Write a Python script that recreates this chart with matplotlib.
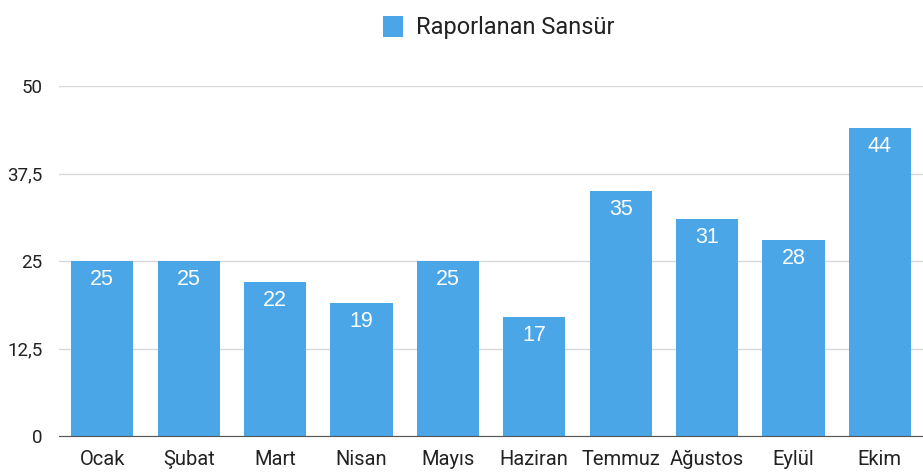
import matplotlib
matplotlib.use("Agg")
import matplotlib.pyplot as plt
from matplotlib.patches import Patch

months = ["Ocak", "Şubat", "Mart", "Nisan", "Mayıs", "Haziran",
          "Temmuz", "Ağustos", "Eylül", "Ekim"]
reported = [25, 25, 22, 19, 25, 17, 35, 31, 28, 44]
y_ticks = [0, 12.5, 25, 37.5, 50]
y_tick_labels = ["0", "12,5", "25", "37,5", "50"]
series_name = "Raporlanan Sansür"

BLUE = "#4aa6e6"
TEXT = "#222222"

plt.rcParams["font.family"] = ["Roboto", "DejaVu Sans"]

fig = plt.figure(figsize=(9.23, 4.73), dpi=100)
ax = fig.add_axes([0.064, 0.078, 0.936, 0.74])

x = range(len(months))
bars = ax.bar(list(x), reported, width=0.72, color=BLUE, zorder=2)
for b, v in zip(bars, reported):
    ax.text(b.get_x() + b.get_width() / 2, v - 1.1, str(v),
            ha="center", va="top", color="white", fontsize=15.5,
            family=["Liberation Sans", "DejaVu Sans"], zorder=3)

ax.set_xlim(-0.5, len(months) - 0.5)
ax.set_ylim(0, 50)
ax.set_yticks(y_ticks)
ax.set_yticklabels(y_tick_labels)
ax.set_xticks(list(x))
ax.set_xticklabels(months)
ax.tick_params(axis="both", length=0, colors=TEXT)
ax.tick_params(axis="y", pad=12, labelsize=13.5)
ax.tick_params(axis="x", pad=10, labelsize=14.5)
ax.grid(True, axis="y", color="#d9d9d9", linewidth=1, zorder=0)
for s in ["top", "right", "left"]:
    ax.spines[s].set_visible(False)
ax.spines["bottom"].set_color("#555555")
ax.spines["bottom"].set_zorder(4)

handle = Patch(facecolor=BLUE, edgecolor="none")
fig.legend([handle], [series_name], loc="upper center",
           bbox_to_anchor=(0.54, 1.012), frameon=False, fontsize=17,
           handlelength=0.85, handleheight=1.0, handletextpad=0.55,
           labelcolor=TEXT)

fig.savefig("out.png", dpi=100)
